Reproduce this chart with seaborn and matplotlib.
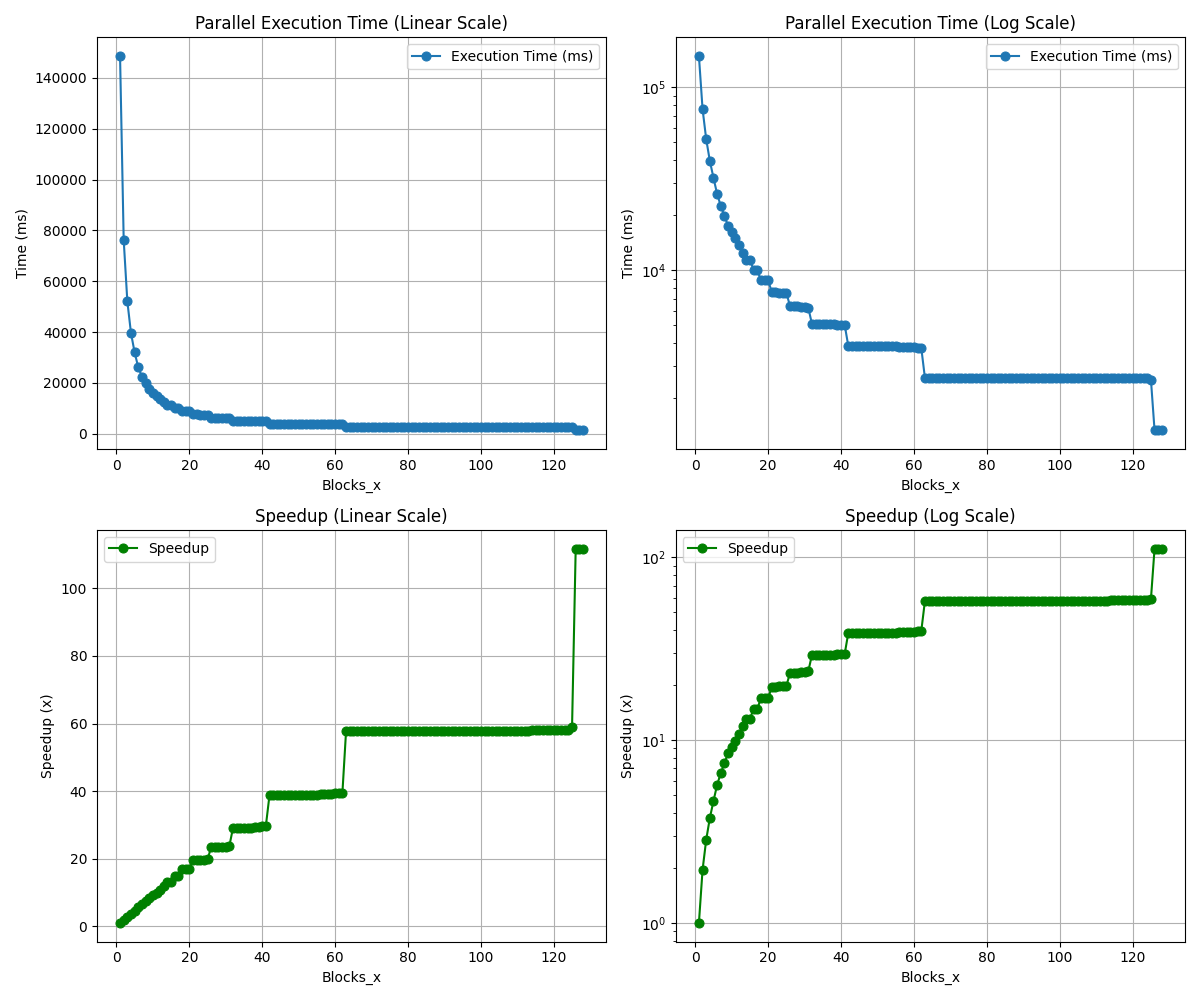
import numpy as np
import pandas as pd
import seaborn as sns
import matplotlib.pyplot as plt

# blocks along x (1..128)
blocks = list(range(1, 129))

# execution time in ms
times = ([148600, 76200, 52100, 39600, 32000, 26100, 22500, 19800, 17500, 16100,
          15000, 13750, 12500, 11350, 11350, 10050, 10050, 8800, 8800, 8790]
         + [7580, 7580, 7540, 7540, 7510]
         + [6350, 6350, 6350, 6320, 6300, 6240]
         + [5090] * 6 + [5055, 5035, 5020, 5000]
         + [3830] * 14 + [3810] * 3 + [3790, 3780, 3770, 3760]
         + [2575] * 51
         + [2558] * 11
         + [2520]
         + [1329] * 3)

# speedup values
speedup = ([1.0, 1.95, 2.85, 3.75, 4.65, 5.7, 6.6, 7.5, 8.5, 9.2,
            9.9, 10.8, 11.9, 13.1, 13.1, 14.8, 14.8, 16.9, 16.9, 16.9]
           + [19.6, 19.6, 19.7, 19.7, 19.8]
           + [23.4, 23.4, 23.4, 23.5, 23.6, 23.8]
           + [29.2] * 6 + [29.4, 29.5, 29.6, 29.7]
           + [38.8] * 14 + [39.0] * 3 + [39.2, 39.3, 39.4, 39.5]
           + [57.7] * 51
           + [58.1] * 11
           + [59.0]
           + [111.8] * 3)

df = pd.DataFrame({"Blocks_x": blocks, "Time": times, "Speedup": speedup})

fig, axes = plt.subplots(2, 2, figsize=(12, 10))

for ax, scale in zip(axes[0], ["Linear", "Log"]):
    sns.lineplot(x="Blocks_x", y="Time", data=df, ax=ax, marker="o",
                 color="#1f77b4", markersize=6.5, markeredgecolor="#1f77b4",
                 label="Execution Time (ms)")
    if scale == "Log":
        ax.set_yscale("log")
    ax.set_title("Parallel Execution Time ({} Scale)".format(scale))
    ax.set_xlabel("Blocks_x")
    ax.set_ylabel("Time (ms)")
    ax.grid(True)
    ax.legend(loc="upper right")

for ax, scale in zip(axes[1], ["Linear", "Log"]):
    sns.lineplot(x="Blocks_x", y="Speedup", data=df, ax=ax, marker="o",
                 color="green", markersize=6.5, markeredgecolor="green",
                 label="Speedup")
    if scale == "Log":
        ax.set_yscale("log")
    ax.set_title("Speedup ({} Scale)".format(scale))
    ax.set_xlabel("Blocks_x")
    ax.set_ylabel("Speedup (x)")
    ax.grid(True)
    ax.legend(loc="upper left")

plt.tight_layout()
plt.savefig("out.png", dpi=100)
